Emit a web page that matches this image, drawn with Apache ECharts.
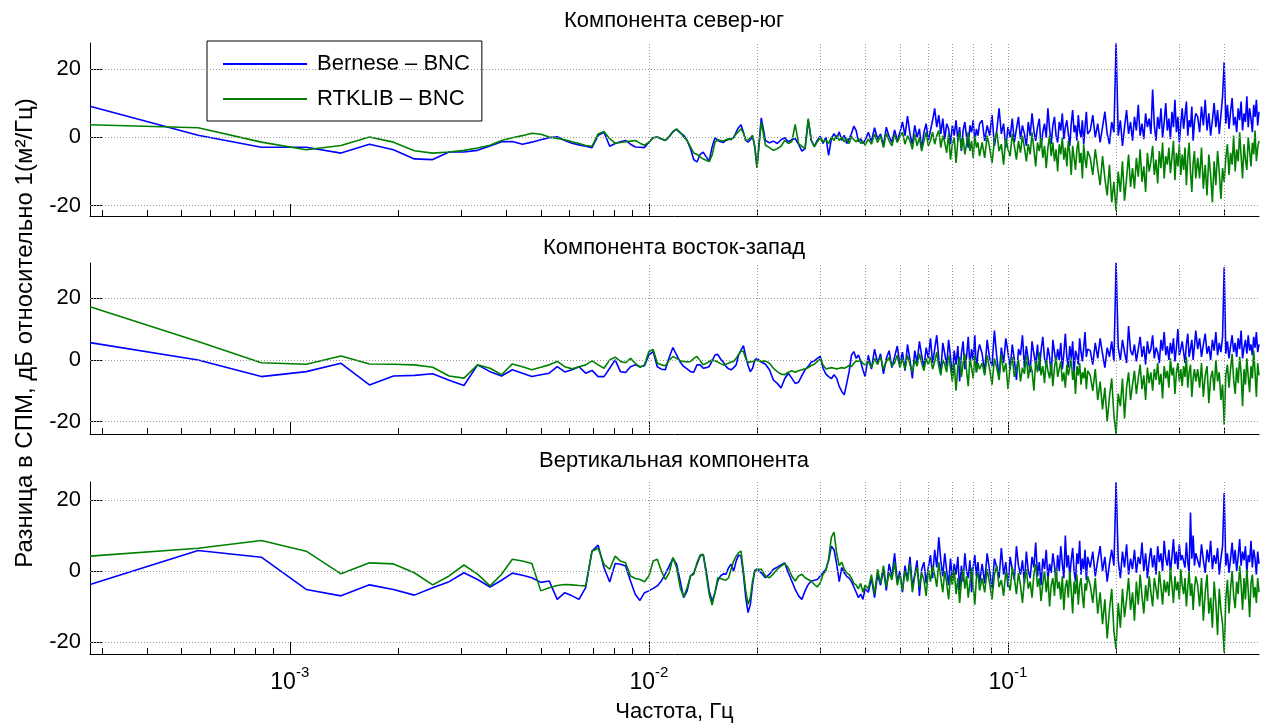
<!DOCTYPE html>
<html><head><meta charset="utf-8"><title>Разница в СПМ</title>
<script src="https://cdn.jsdelivr.net/npm/echarts@6/dist/echarts.min.js"></script>
<style>html,body{margin:0;padding:0;background:#fff}#chart{width:1272px;height:726px}</style>
</head><body><div id="chart"></div>
<script>
// Frequency bin index k; frequency f = k / 3600 Hz (1-hour record, 1 Hz sampling)
const K = [1,2,3,4,5,6,7,8,9,10,11,12,13,14,15,16,17,18,19,20,21,22,23,24,25,26,27,28,29,30,31,32,33,34,35,36,37,38,39,40,41,42,43,44,45,46,47,48,49,50,51,52,53,54,55,56,57,58,59,60,61,62,63,64,65,66,67,68,69,70,71,72,
74,76,78,80,82,84,86,88,90,92,94,96,98,100,102,104,106,108,110,112,114,116,118,120,122,124,126,128,130,132,134,136,138,140,142,144,
147,150,153,156,159,162,165,168,171,174,177,180,183,186,189,192,195,198,201,204,207,210,213,216,219,222,225,228,231,234,237,240,243,246,249,252,255,258,261,264,267,270,273,276,279,282,285,288,291,294,297,300,
305,310,315,320,325,330,335,340,345,350,355,360,365,370,375,380,385,390,395,400,405,410,415,420,425,430,435,440,445,450,455,460,465,470,475,480,485,490,495,500,505,510,515,520,525,530,535,540,545,550,555,560,565,570,575,580,585,590,595,600,
610,620,630,640,650,660,670,680,690,700,710,720,730,740,750,760,770,780,790,800,810,820,830,840,850,860,870,880,890,900,910,920,930,940,950,960,970,980,990,1000,1010,1020,1030,1040,1050,1060,1070,1080,1090,1100,1110,1120,1130,1140,1150,1160,1170,1180,1190,1200,
1215,1230,1245,1260,1275,1290,1305,1320,1335,1350,1365,1380,1395,1410,1425,1440,1455,1470,1485,1500,1515,1530,1545,1560,1575,1590,1605,1620,1635,1650,1665,1680,1695,1710,1725,1740,1755,1770,1785,1800];

// North-south component, dB
const NS_BERNESE = [9.1,0.6,-2.9,-2.9,-4.6,-2.0,-3.6,-6.3,-6.5,-4.3,-4.3,-3.8,-2.5,-1.3,-1.2,-2.0,-1.4,-0.7,-0.1,0.2,-0.9,-1.7,-2.2,-2.6,-3.0,0.6,1.5,-2.6,-1.8,-1.3,-0.9,-2.0,-2.8,-2.9,-3.0,-1.4,-0.1,0.1,-0.5,-0.9,0.1,1.7,2.3,1.3,0.6,-0.9,-3.3,-6.5,-7.2,-5.0,-4.3,-5.7,-6.9,-2.8,-0.1,-0.9,-1.3,-1.5,-0.9,-0.6,-0.4,-0.1,1.5,2.9,3.7,1.5,-0.9,-1.4,-0.7,0.3,-2.8,-8.7,
5.7,-0.9,-1.6,-1.1,-1.8,-0.7,-0.1,-1.3,-0.7,-0.4,-2.0,-4.0,-3.3,5.0,-0.9,-2.6,-0.9,0.3,-1.8,0.1,-5.3,-0.4,1.1,-0.4,1.6,-0.9,0.6,-1.8,-0.4,1.1,3.3,2.0,-1.3,-0.4,-1.8,-0.9,
1.5,-1.2,2.8,-0.5,1.0,-2.5,3.0,0.2,-1.5,2.2,-0.8,1.4,4.5,0.5,6.2,1.0,-2.0,3.5,0.0,2.5,-3.5,1.5,4.0,-1.0,2.0,5.0,8.5,3.0,6.5,1.0,5.5,-0.5,4.0,2.5,-2.0,3.5,0.5,5.0,-1.0,3.0,-4.0,2.0,4.5,0.0,-3.0,3.5,1.5,5.0,-1.5,2.5,0.5,4.0,
5.0,-1.0,3.5,0.5,6.5,-2.5,2.0,8.5,1.0,4.0,-3.0,3.0,0.0,5.5,-1.5,2.5,6.0,-0.5,3.5,1.0,-2.5,4.5,0.5,7.0,2.0,-1.0,3.0,5.5,-3.0,1.5,4.0,0.0,8.5,2.5,-2.0,3.5,6.0,0.5,-1.5,4.5,2.0,7.0,-0.5,3.0,5.0,1.0,-2.5,4.0,8.0,1.5,3.5,-1.0,6.5,2.0,0.0,5.0,-2.0,3.0,7.5,1.0,
2.0,6.5,0.0,4.0,-1.5,3.0,7.5,1.0,-2.0,4.5,1.5,27.5,0.5,5.0,-2.5,3.0,8.0,1.0,4.5,-1.0,6.0,2.0,9.5,0.5,4.0,-0.5,7.0,3.0,5.5,1.0,14.0,3.5,-1.0,6.0,2.5,8.5,0.0,4.5,10.0,2.0,5.5,-0.5,7.5,3.0,11.0,1.5,6.0,-1.5,4.0,8.5,2.5,6.5,10.5,0.5,5.0,3.0,9.0,-1.0,4.5,7.0,
6.0,1.5,9.0,3.5,11.0,2.0,7.0,0.5,5.0,10.0,3.0,8.0,1.0,6.5,12.0,22.0,4.0,9.5,2.5,7.5,11.5,3.5,6.0,1.5,8.5,5.0,10.5,2.0,7.0,4.5,12.0,3.0,8.5,5.5,1.5,9.5,6.0,11.0,3.5,7.5];
const NS_RTKLIB = [3.7,2.8,-1.4,-3.6,-2.4,0.1,-1.4,-3.9,-4.6,-4.3,-3.8,-3.1,-2.3,-0.9,-0.1,0.5,1.2,0.9,0.1,-0.3,-0.7,-1.3,-1.8,-2.4,-2.6,1.0,1.7,-0.4,-1.7,-1.5,-1.3,-1.1,-0.9,-1.7,-2.3,-1.4,-0.1,0.1,-0.4,-0.9,0.3,1.6,2.5,1.5,0.1,-0.9,-2.8,-4.6,-5.0,-5.7,-6.3,-6.7,-7.1,-5.2,-1.4,-0.7,-0.9,-1.1,-0.7,-0.4,-0.7,0.1,1.0,1.7,2.5,1.3,-0.9,-0.7,-0.1,0.6,-2.8,-8.9,
4.5,-2.3,-3.0,-3.8,-3.3,-2.6,-0.9,-1.8,-1.3,3.8,-1.8,-2.6,-3.3,5.5,-0.9,-2.8,-1.3,-0.1,-1.3,-0.7,-1.8,0.1,-0.9,0.6,-0.9,0.1,-1.3,-0.4,-1.8,0.3,-0.7,-1.3,-0.4,-1.8,-1.1,-2.3,
-0.5,-2.0,1.0,-1.5,0.5,-3.0,1.2,-1.0,-2.5,0.8,-1.5,0.3,1.5,-2.0,0.5,-1.0,-3.5,1.0,-2.5,0.0,-4.0,-1.0,1.5,-2.5,-1.0,1.5,-2.0,0.5,2.0,-3.0,0.5,-1.5,-4.5,1.0,-6.5,-2.0,0.0,-7.5,-1.0,1.5,-3.5,0.0,-5.0,-2.0,1.5,-4.0,-1.0,-6.0,0.5,-3.0,-1.5,-5.5,
-1.5,-6.0,0.5,-3.0,-7.5,-1.0,1.5,-4.0,-2.0,-8.0,0.0,-3.5,-5.5,1.0,-2.5,-6.5,-1.0,-4.5,0.5,-3.0,-7.0,-2.0,-5.0,1.5,-3.5,-8.5,-1.5,-4.0,0.0,-6.0,-2.5,-9.0,-3.0,0.5,-5.5,-1.5,-7.0,-3.5,-10.0,-2.0,-5.0,0.0,-6.5,-3.0,-8.5,-1.0,-4.5,-11.0,-2.5,-6.0,-9.5,-3.5,-1.0,-7.5,-4.5,-12.0,-2.0,-6.5,-9.0,-4.0,
-6.0,-11.0,-3.5,-9.0,-14.0,-5.5,-12.0,-17.0,-8.0,-19.0,-13.0,-21.5,-10.0,-16.0,-7.0,-18.5,-12.0,-5.0,-14.5,-9.0,-15.0,-6.0,-11.5,-3.5,-13.0,-8.5,-16.0,-4.5,-10.0,-7.0,-2.5,-11.0,-6.5,-13.5,-4.0,-9.0,-1.5,-12.0,-5.5,-8.0,-3.0,-10.5,-6.0,-1.0,-12.5,-4.5,-8.5,-2.0,-11.0,-5.0,-9.5,-3.0,-14.0,-6.0,-1.5,-10.0,-16.0,-7.5,-4.0,-12.0,
-6.0,-12.0,-3.0,-15.0,-8.0,-17.0,-5.0,-11.0,-19.0,-7.0,-14.0,-4.0,-10.0,-18.0,-9.0,-13.0,-6.0,-2.0,-11.0,-4.5,-8.0,0.5,-10.0,-3.5,-7.0,1.5,-5.5,-12.0,-2.0,-6.5,-9.5,0.0,-4.0,-8.5,-1.5,-5.0,2.0,-7.0,-3.0,-1.0];

// East-west component, dB
const EW_BERNESE = [5.6,0,-5.4,-3.8,-1.1,-8.1,-5.2,-5.0,-4.5,-6.6,-8.3,-1.6,-3.8,-5.2,-3.2,-4.3,-5.4,-4.8,-4.3,-2.2,-3.9,-3.2,-2.2,-4.3,-3.4,-5.4,-5.4,-2.7,0,-3.8,-4.1,-2.2,-1.6,-2.2,-1.9,1.6,2.7,-2.2,-3.0,-3.2,0.8,4.0,1.6,-0.7,-2.1,-2.9,-3.8,-4.0,-1.6,-1.6,-2.7,-2.5,-2.1,-0.3,1.6,1.8,0.3,-0.7,-2.1,-2.9,-3.2,-2.5,-1.6,1.6,3.2,4.6,1.1,-1.8,-3.8,-2.7,0,0.5,
-0.7,-1.4,-3.2,-6.5,-7.6,-9.1,-6.1,-4.3,-5.9,-7.6,-7.2,-5.1,-3.2,-2.1,-0.7,-0.3,0.5,1.1,-2.7,-4.6,-5.4,-6.1,-4.8,-5.9,-8.6,-10.2,-11.3,-7.6,-3.8,1.6,2.7,0.5,1.6,-0.5,-3.2,-5.4,
1.5,-3.0,3.5,-1.0,2.0,-4.5,0.5,3.0,-2.5,1.0,4.5,-1.5,2.5,-3.5,5.0,0.0,-6.0,3.0,-1.0,6.0,1.5,-2.5,4.0,0.5,7.0,-1.0,3.5,8.0,0.5,-4.0,5.5,2.0,-2.0,6.5,1.0,-5.5,3.0,-1.5,4.5,-7.0,2.0,6.0,-3.0,1.0,7.5,-2.0,3.5,0.0,8.0,-4.0,2.5,5.0,
2.0,-4.0,6.5,0.5,-2.0,9.5,1.0,-5.5,4.0,-1.0,7.0,2.5,-3.0,5.0,0.0,-6.5,3.5,1.5,8.0,-2.5,4.5,0.0,-4.0,6.0,2.0,-1.5,5.0,-3.5,3.0,7.5,0.5,-2.0,4.0,1.0,-5.0,6.5,2.5,-1.0,3.5,0.0,5.5,-3.0,2.0,8.5,1.0,-2.5,4.5,0.5,6.0,-4.0,3.0,1.5,-1.5,7.0,2.5,-0.5,4.0,9.0,1.0,3.5,
3.0,-1.5,5.5,0.5,7.0,2.0,-2.5,4.0,1.0,6.0,-0.5,31.5,4.0,0.0,6.5,2.5,-1.0,11.0,3.0,1.5,5.0,-0.5,3.5,7.5,1.0,4.5,-1.5,6.0,2.0,3.5,8.0,0.5,4.0,2.5,-1.0,6.5,3.0,9.0,1.5,4.5,0.0,5.5,2.0,7.0,-0.5,4.0,10.0,1.5,3.5,6.0,2.5,-1.0,5.0,8.5,1.0,3.5,6.5,0.0,4.5,9.5,
3.5,7.0,1.0,5.0,8.5,2.0,4.5,0.0,6.5,3.0,9.0,1.5,5.5,2.5,7.5,30.0,2.0,6.0,0.5,4.5,8.0,2.5,5.5,1.0,7.0,3.5,9.5,0.5,4.0,6.5,2.0,8.0,3.0,5.0,1.5,7.5,4.0,9.0,2.5,5.0];
const EW_RTKLIB = [17.2,6.0,-0.9,-1.4,1.3,-1.3,-1.4,-1.6,-2.4,-5.2,-5.9,-1.6,-2.7,-4.8,-1.3,-2.2,-3.2,-2.4,-1.6,-0.5,-2.2,-2.9,-2.2,-1.6,-0.3,-1.6,-2.7,0,0.9,-0.5,-0.9,0.5,-1.1,-2.4,-1.6,2.7,3.4,-1.1,-1.6,-1.9,-0.2,1.1,0.5,-0.3,-0.5,-0.7,-0.5,0.5,1.1,-0.3,-1.6,-1.1,-0.5,0,-0.3,-0.7,-1.2,-1.6,-1.4,-1.1,-0.7,-0.5,0.5,1.8,2.9,2.7,0.5,-0.7,-0.7,-0.5,-0.2,-0.1,
-0.5,-0.3,-1.1,-2.7,-3.8,-4.6,-4.8,-4.0,-3.5,-4.0,-3.5,-3.2,-2.9,-2.5,-1.8,-1.4,-0.5,0.3,-1.6,-2.9,-2.7,-2.5,-2.7,-2.9,-2.7,-2.5,-2.7,-2.3,-1.8,-2.1,-1.1,-0.3,-0.5,0,-1.1,-1.6,
-0.5,-2.5,0.5,-1.5,1.0,-3.0,-0.5,0.8,-2.0,-1.0,1.5,-2.5,0.5,-3.0,1.5,-1.5,-4.0,0.0,-2.0,2.0,-1.0,-3.5,0.5,-1.5,1.0,-3.0,-0.5,2.5,-2.0,-5.0,0.0,-1.5,-4.0,1.5,-2.5,-7.0,-1.0,-10.0,-2.0,1.0,-5.5,-1.0,2.0,-3.5,-8.5,0.5,-2.5,-6.0,1.5,-4.0,-1.0,-3.0,
-1.0,-5.0,1.5,-3.0,-8.0,0.5,-2.5,-6.5,2.0,-4.0,-1.0,-9.5,-2.0,1.0,-5.5,-3.0,0.0,-7.0,-2.5,-4.5,1.5,-6.0,-1.5,-3.5,-10.0,-0.5,-4.0,2.5,-5.0,-2.0,-7.5,0.0,-3.5,-6.0,-1.0,-8.5,-2.5,1.0,-5.5,-3.0,-0.5,-7.0,-4.0,-9.0,-1.5,-5.0,-2.5,0.5,-6.5,-3.5,-11.0,-2.0,-5.0,-1.0,-8.0,-4.0,-6.0,-2.5,-9.5,-3.5,
-5.0,-10.0,-3.0,-13.0,-7.0,-16.0,-9.0,-20.0,-12.0,-6.0,-18.0,-24.0,-11.0,-15.0,-6.0,-19.0,-9.0,-4.0,-13.0,-8.0,-3.5,-11.0,-6.0,-1.5,-9.5,-5.0,-13.0,-2.5,-7.5,-4.0,-10.0,-3.0,-6.5,-1.0,-8.0,-4.5,-12.5,-2.0,-6.0,-3.5,-9.0,0.5,-5.0,-2.5,-11.0,-4.0,-1.0,-7.0,-3.0,-8.5,-2.0,-5.5,1.0,-9.0,-4.0,-1.5,-12.0,-6.0,-3.0,-7.0,
-3.0,-9.0,-1.0,-12.0,-5.0,-2.0,-14.0,-6.0,-3.5,-10.0,0.0,-7.0,-4.0,-13.0,-8.0,-21.0,-5.0,-1.5,-9.0,-3.0,2.0,-6.5,-11.0,-2.5,-7.5,1.0,-4.5,-15.0,-3.0,-8.0,0.5,-5.5,-10.5,-2.0,-6.0,3.0,-4.0,-12.0,-1.0,-5.0];

// Vertical component, dB
const UP_BERNESE = [-3.8,5.8,3.9,-5.2,-7.0,-3.9,-5.2,-6.8,-4.7,-3.0,-0.5,-2.4,-4.5,-2.6,-0.6,-1.2,-1.9,-3.2,-2.8,-8.0,-6.1,-7.0,-8.0,-4.7,5.6,7.3,0.9,-3.1,2.1,1.9,1.4,-2.8,-6.6,-8.3,-6.1,-5.6,-4.9,-4.2,-2.8,-0.8,1.4,3.6,1.9,-2.8,-7.5,-5.6,-1.4,-0.5,1.9,4.2,4.7,0,-5.6,-8.5,-6.1,-2.8,-1.4,-0.8,-0.9,0.9,1.9,0,2.8,4.5,4.2,-0.9,-7.5,-11.7,-9.4,-3.8,0.2,0.5,
-0.5,-1.9,-0.9,0.5,1.1,1.7,2.3,-0.5,-2.8,-5.2,-7.0,-8.0,-5.6,-3.8,-2.8,-2.6,-2.4,-1.4,-0.5,0.5,3.0,7.0,6.0,2.0,-3.0,1.0,-0.5,-1.5,-2.0,-3.0,-4.5,-6.0,-7.5,-6.5,-8.0,-5.0,
-6.0,-2.0,-7.5,-1.0,-4.0,0.5,-5.5,2.0,-1.5,5.0,-3.0,0.0,-6.0,1.5,-2.5,4.0,-4.5,-1.0,3.0,-7.0,0.5,2.5,-3.5,1.0,4.5,-2.0,6.0,1.0,9.5,3.0,-1.5,5.0,0.0,-4.0,3.5,-2.5,2.0,-1.0,4.0,-5.5,1.5,-3.0,5.0,0.0,-2.0,3.0,-6.0,1.0,4.5,-1.5,2.5,-3.5,
2.0,-3.5,5.0,0.0,-5.0,3.5,1.0,-2.0,6.5,-1.0,2.5,-4.5,4.0,0.5,-2.5,7.0,1.5,-1.0,3.0,-3.5,5.5,0.0,-2.0,4.0,1.0,8.0,-1.5,2.5,-4.0,3.5,0.5,6.0,-2.5,2.0,-0.5,5.0,1.5,-3.0,4.5,0.0,7.0,2.0,-2.0,10.0,1.0,4.5,-1.5,3.0,6.5,0.0,-3.0,5.0,2.0,8.5,-1.0,3.5,0.5,6.0,-2.5,4.0,
1.0,5.5,-1.5,3.0,7.0,0.0,4.0,-3.0,2.0,6.0,1.5,25.0,3.0,-2.0,5.5,1.0,7.5,-1.0,3.5,0.5,6.0,-0.5,4.0,2.0,8.0,0.0,5.0,-2.0,3.0,6.5,1.0,4.5,-1.0,7.0,2.5,5.0,0.0,8.5,3.5,1.5,6.0,-0.5,4.0,9.0,2.0,5.5,0.5,7.5,3.0,4.5,4.0,1.0,8.0,2.5,-0.5,16.5,3.5,10.0,1.5,5.0,
5.0,1.0,7.5,3.0,-0.5,6.0,2.5,8.5,0.5,4.5,2.0,6.5,-1.0,3.5,7.0,22.0,1.5,5.0,-0.5,3.5,8.0,2.0,6.0,0.0,4.0,9.0,1.5,5.5,3.0,7.0,-0.5,4.5,2.5,8.5,1.0,6.0,3.5,-1.0,5.5,2.0];
const UP_RTKLIB = [4.2,6.4,8.6,5.6,-0.8,2.3,2.0,-0.5,-3.9,-1.4,1.7,-0.9,-4.2,-0.9,3.3,2.8,2.1,-5.6,-4.7,-4.1,-3.8,-3.9,-4.1,-4.2,5.6,6.4,1.9,0.5,4.2,2.8,2.3,-1.4,-2.1,-2.4,-3.0,-1.4,2.8,3.3,0,-2.4,-0.5,3.8,0.9,-4.7,-7.3,-4.7,-1.4,-0.9,2.3,4.5,4.7,-0.9,-6.6,-9.6,-6.1,-1.9,-2.1,-2.4,-2.6,-1.9,0.5,2.8,4.2,5.2,5.6,0,-5.6,-9.4,-7.5,-2.8,0,0.5,
0.5,-1.4,-1.9,-0.8,0.5,1.4,2.1,0.9,-1.4,-2.8,-1.4,-0.9,-1.9,-2.4,-2.8,-3.8,-4.5,-3.3,-0.9,0,3.5,9.5,11.0,5.0,1.5,2.5,0.5,-0.5,-1.0,-2.0,-3.5,-4.0,-5.0,-3.5,-6.0,-4.0,
-5.0,-1.0,-6.5,0.5,-3.5,1.5,-4.5,-0.5,-2.5,2.5,-4.0,-1.0,-5.5,0.0,-3.0,2.0,-6.0,-1.5,1.0,-4.5,-0.5,-2.5,-7.0,0.5,-3.0,1.5,-1.0,-4.5,2.5,-2.0,-6.0,0.0,-3.5,-8.0,-1.0,-4.0,0.5,-6.5,-2.0,-9.0,-3.0,0.5,-5.0,-1.5,-7.5,-3.5,1.0,-4.5,-9.5,-2.0,-0.5,-5.5,
-2.0,-6.0,0.5,-3.5,-8.0,-1.0,1.5,-4.5,-2.5,-7.0,0.0,-3.0,-5.5,1.0,-2.0,-6.5,-0.5,-4.0,-9.0,-2.5,0.5,-5.0,-3.0,-7.5,-1.0,2.0,-4.5,-2.0,-8.5,-3.5,0.0,-6.0,-1.5,-10.0,-4.0,-2.0,-7.0,1.0,-5.0,-3.0,-8.0,-1.5,-11.0,-4.5,-2.5,-7.5,0.0,-5.5,-12.0,-3.0,-6.5,-1.0,-9.5,-4.0,-2.0,-7.0,-10.5,-3.5,-5.5,-1.5,
-4.0,-9.0,-2.0,-12.0,-6.0,-15.0,-8.0,-19.0,-11.0,-5.0,-17.0,-22.0,-9.0,-16.0,-5.0,-13.0,-8.0,-2.0,-11.0,-6.0,-14.0,-3.0,-9.5,-1.0,-7.0,-12.0,-4.0,-8.5,-1.5,-6.0,-10.0,-2.0,-5.0,-8.0,0.0,-4.5,-9.5,-2.5,-6.0,-3.0,-7.0,1.0,-4.0,-9.0,-1.5,-5.5,-3.0,-8.0,0.5,-4.0,-6.5,-2.0,-10.0,-4.5,0.0,-7.0,-3.5,-11.0,-5.0,-1.5,
-4.0,-10.0,-2.0,-14.0,-6.0,-1.0,-12.0,-7.5,-16.0,-3.0,-9.0,-18.0,-5.0,-11.0,-15.0,-23.0,-8.0,-2.5,-12.0,-5.0,0.0,-7.0,-10.5,-3.0,-6.5,1.5,-4.0,-11.0,-2.0,-8.0,0.5,-5.5,-13.0,-3.5,-1.0,-7.5,-4.5,-9.0,-2.0,-6.0];

const SERIES_NAMES = ['Bernese – BNC', 'RTKLIB – BNC'];
const PANEL_TITLES = ['Компонента север-юг', 'Компонента восток-запад', 'Вертикальная компонента'];
const X_DECADES = [0.001, 0.01, 0.1];
const X_MINOR = [3e-4,4e-4,5e-4,6e-4,7e-4,8e-4,9e-4, 2e-3,3e-3,4e-3,5e-3,6e-3,7e-3,8e-3,9e-3, 0.02,0.03,0.04,0.05,0.06,0.07,0.08,0.09, 0.2,0.3,0.4];
const Y_TICKS = [-20, 0, 20];
const Y_LIMITS = [[-23, 27.6], [-24, 31.4], [-23.4, 25.1]];
const X_LIMITS = [1 / 3600, 0.5];
const Y_LABEL = 'Разница в СПМ, дБ относительно 1(м²/Гц)';
const X_LABEL = 'Частота, Гц';

// ---------- chart ----------
const FONT = "'Liberation Sans', Arial, sans-serif";
const COLORS = ['#0000ff', '#008000'];
const panels = [[NS_BERNESE, NS_RTKLIB], [EW_BERNESE, EW_RTKLIB], [UP_BERNESE, UP_RTKLIB]];
panels.forEach((p, i) => p.forEach((s, j) => {
  if (s.length !== K.length) throw new Error('length mismatch panel ' + i + ' series ' + j + ': ' + s.length + ' vs ' + K.length);
}));
const freqs = K.map(k => k / 3600);

const gridTops = [43, 263, 482], gridHeights = [173, 171, 172], titleTops = [10, 236.5, 449.5];
const grids = [], xAxes = [], yAxes = [], series = [], titles = [];
for (let i = 0; i < 3; i++) {
  const bottom = i === 2;
  grids.push({left: 90, right: 13, top: gridTops[i], height: gridHeights[i]});
  titles.push({text: PANEL_TITLES[i], left: 674, top: titleTops[i], textAlign: 'center', padding: 0,
    textStyle: {fontSize: 22, fontWeight: 'normal', color: '#000', fontFamily: FONT}});
  xAxes.push({type: 'log', logBase: 10, gridIndex: i, min: X_LIMITS[0], max: X_LIMITS[1], position: 'bottom',
    axisLine: {show: true, onZero: false, lineStyle: {color: '#000', width: 1}},
    axisTick: {show: true, inside: true, length: 12, customValues: X_DECADES, lineStyle: {color: '#000', width: 1}},
    axisLabel: {show: bottom, customValues: X_DECADES, margin: 11,
      formatter: v => '{b|10}{s|' + Math.round(Math.log10(v)) + '}',
      rich: {b: {fontSize: 23, color: '#000', fontFamily: FONT, lineHeight: 29, verticalAlign: 'bottom'},
             s: {fontSize: 15, color: '#000', fontFamily: FONT, lineHeight: 15, verticalAlign: 'top'}}},
    splitLine: {show: false}, minorTick: {show: false}, minorSplitLine: {show: false},
    name: bottom ? X_LABEL : '', nameLocation: 'middle', nameGap: 47,
    nameTextStyle: {fontSize: 22, color: '#000', fontFamily: FONT}});
  xAxes.push({type: 'log', logBase: 10, gridIndex: i, min: X_LIMITS[0], max: X_LIMITS[1], position: 'bottom',
    axisLine: {show: false, onZero: false},
    axisTick: {show: true, inside: true, length: 6, customValues: X_MINOR, lineStyle: {color: '#000', width: 1}},
    axisLabel: {show: false}, splitLine: {show: false}});
  yAxes.push({type: 'value', gridIndex: i, min: Y_LIMITS[i][0], max: Y_LIMITS[i][1],
    axisLine: {show: true, onZero: false, lineStyle: {color: '#000', width: 1}},
    axisTick: {show: true, inside: true, length: 12, customValues: Y_TICKS, lineStyle: {color: '#000', width: 1}},
    axisLabel: {show: true, customValues: Y_TICKS, margin: 9, fontSize: 22, color: '#000', fontFamily: FONT},
    splitLine: {show: false}});
  series.push({type: 'line', xAxisIndex: 2 * i, yAxisIndex: i, data: [], silent: true, z: 1,
    markLine: {silent: true, symbol: ['none', 'none'], label: {show: false}, animation: false,
      lineStyle: {type: [1, 2], color: '#9a9a9a', width: 1},
      data: [...X_MINOR, ...X_DECADES].map(v => ({xAxis: v})).concat(Y_TICKS.map(v => ({yAxis: v})))}});
  panels[i].forEach((vals, j) => {
    series.push({type: 'line', name: SERIES_NAMES[j], xAxisIndex: 2 * i, yAxisIndex: i,
      data: freqs.map((f, n) => [f, vals[n]]), symbol: 'none', showSymbol: false, silent: true,
      color: COLORS[j], lineStyle: {width: 1.6, color: COLORS[j]}, z: 2 + j});
  });
}

const chart = echarts.init(document.getElementById('chart'), null, {renderer: 'canvas'});
chart.setOption({
  animation: false,
  backgroundColor: '#fff',
  textStyle: {fontFamily: FONT},
  title: titles,
  grid: grids,
  xAxis: xAxes,
  yAxis: yAxes,
  legend: {data: SERIES_NAMES, orient: 'vertical', left: 207, top: 41, padding: [11, 12, 10, 16],
    itemGap: 11, itemWidth: 84, itemHeight: 2, icon: 'rect', selectedMode: false,
    backgroundColor: '#fff', borderColor: '#000', borderWidth: 1,
    textStyle: {fontSize: 22, color: '#000', fontFamily: FONT, lineHeight: 24, padding: [0, 0, 0, 5]}},
  graphic: [{type: 'text', x: 25, y: 333, rotation: Math.PI / 2, silent: true,
    style: {text: Y_LABEL, fontSize: 24, fontFamily: FONT, fill: '#000', align: 'center', verticalAlign: 'middle'}}],
  series: series
});
</script></body></html>
